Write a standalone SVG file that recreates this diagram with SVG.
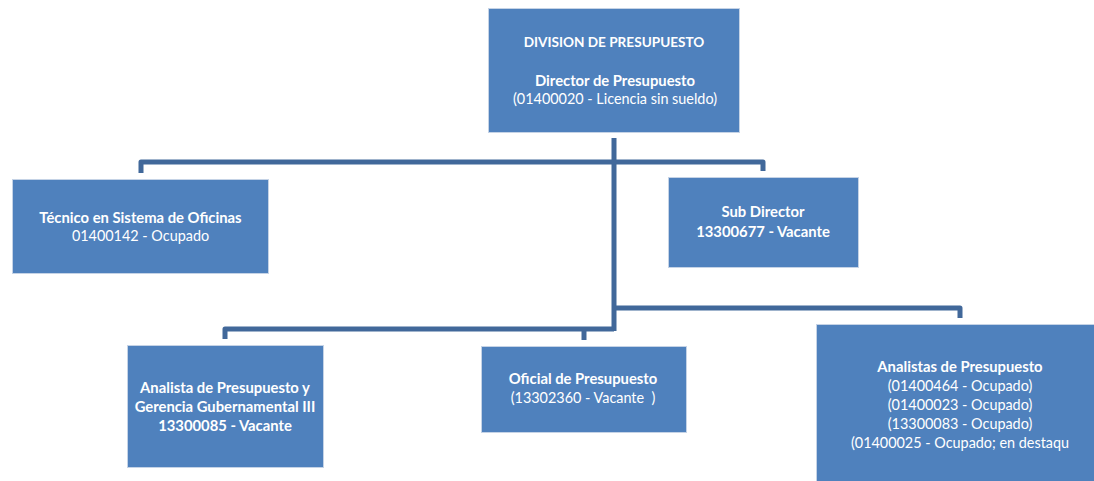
<svg xmlns="http://www.w3.org/2000/svg" width="1094" height="481" viewBox="0 0 1094 481">
  <style>
    .box { fill: #4f81bd; stroke: #c5d3e6; stroke-width: 1; }
    .lbl { font-family: Lato, "Open Sans", "Liberation Sans", sans-serif; font-size: 14.4px; fill: #ffffff; text-anchor: middle; }
    .b { font-weight: bold; font-size: 14.8px; }
    .caps { font-size: 13.6px; }
    .link { fill: none; stroke: #41689a; stroke-width: 5; stroke-linejoin: round; }
  </style>

  <rect width="1094" height="481" fill="#ffffff"/>

  <!-- connectors -->
  <g id="connectors">
    <path class="link" d="M614 138 V331"/>
    <path class="link" d="M141 173 V162 H763 V171"/>
    <path class="link" d="M614 308 H960 V318"/>
    <path class="link" d="M225 339 V329 H614"/>
    <path class="link" d="M584 329 V340"/>
  </g>

  <g id="division">
    <rect class="box" x="488.5" y="8.5" width="251" height="124"/>
    <text class="lbl b caps" x="614" y="47">DIVISION DE PRESUPUESTO</text>
    <text class="lbl b" x="615" y="86">Director de Presupuesto</text>
    <text class="lbl" x="615" y="104">(01400020 - Licencia sin sueldo)</text>
  </g>

  <g id="tecnico">
    <rect class="box" x="12.5" y="179.5" width="256" height="94"/>
    <text class="lbl b" x="140.5" y="223">Técnico en Sistema de Oficinas</text>
    <text class="lbl" x="140.5" y="241">01400142 - Ocupado</text>
  </g>

  <g id="subdirector">
    <rect class="box" x="668.5" y="177.5" width="190" height="90"/>
    <text class="lbl b" x="763" y="217">Sub Director</text>
    <text class="lbl b" x="763" y="237">13300677 - Vacante</text>
  </g>

  <g id="analista">
    <rect class="box" x="127.5" y="345.5" width="196" height="122"/>
    <text class="lbl b" x="225" y="393">Analista de Presupuesto y</text>
    <text class="lbl b" x="225" y="412">Gerencia Gubernamental III</text>
    <text class="lbl b" x="225" y="431">13300085 - Vacante</text>
  </g>

  <g id="oficial">
    <rect class="box" x="481.5" y="346.5" width="205" height="86"/>
    <text class="lbl b" x="583" y="384">Oficial de Presupuesto</text>
    <text class="lbl" x="583" y="403" xml:space="preserve">(13302360 - Vacante  )</text>
  </g>

  <g id="analistas">
    <rect class="box" x="816.5" y="324.5" width="280" height="160"/>
    <text class="lbl b" x="960" y="372">Analistas de Presupuesto</text>
    <text class="lbl" x="960" y="391">(01400464 - Ocupado)</text>
    <text class="lbl" x="960" y="410">(01400023 - Ocupado)</text>
    <text class="lbl" x="960" y="429">(13300083 - Ocupado)</text>
    <text class="lbl" x="960" y="448">(01400025 - Ocupado; en destaqu</text>
  </g>
</svg>
